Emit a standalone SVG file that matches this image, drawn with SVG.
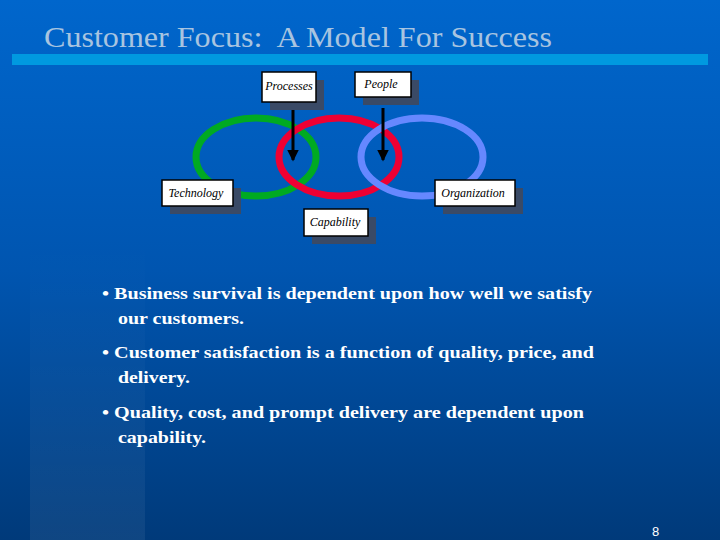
<svg xmlns="http://www.w3.org/2000/svg" width="720" height="540" viewBox="0 0 720 540">
<defs>
<linearGradient id="bg" x1="0" y1="0" x2="0" y2="1"><stop offset="0" stop-color="#0066cc"/><stop offset="0.5" stop-color="#0055b0"/><stop offset="1" stop-color="#003a7a"/></linearGradient>
<linearGradient id="strip" x1="0" y1="0" x2="0" y2="1"><stop offset="0" stop-color="#ffffff" stop-opacity="0"/><stop offset="1" stop-color="#ffffff" stop-opacity="0.06"/></linearGradient>
<marker id="ah" markerWidth="4" markerHeight="4" refX="3.5" refY="2" orient="auto"><path d="M0,0L4,2L0,4Z" fill="#000"/></marker>
<style>
.box{fill:#fff;stroke:#000;stroke-width:1.5}
.sh{fill:#3a4a66}
.lbl{font-family:"Liberation Serif",serif;font-style:italic;font-size:12px;fill:#000}
.bul{font-family:"Liberation Serif",serif;font-weight:bold;font-size:17px;fill:#fff}
</style>
</defs>
<rect width="720" height="540" fill="url(#bg)"/>
<rect x="30" y="240" width="115" height="300" fill="url(#strip)"/>
<rect x="12" y="54" width="696" height="11" fill="#0099e0"/>
<text x="44" y="47" font-family="Liberation Serif,serif" font-size="30" fill="#a8c4e0" xml:space="preserve" textLength="508" lengthAdjust="spacingAndGlyphs">Customer Focus:  A Model For Success</text>
<g id="rings" fill="none" stroke-width="7">
<ellipse cx="256" cy="157" rx="60" ry="39" stroke="#00aa22"/>
<ellipse cx="339" cy="157" rx="60" ry="39" stroke="#ee0033"/>
<ellipse cx="422" cy="157" rx="61" ry="39" stroke="#6688ff"/>
</g>
<g id="connectors" stroke="#000" stroke-width="3">
<line x1="293" y1="110" x2="293" y2="160" marker-end="url(#ah)"/>
<line x1="383" y1="108" x2="383" y2="160" marker-end="url(#ah)"/>
</g>
<g id="processes"><rect class="sh" x="270" y="80" width="54" height="30"/><rect class="box" x="262" y="72" width="54" height="30"/><text class="lbl" x="289" y="90" text-anchor="middle">Processes</text></g>
<g id="people"><rect class="sh" x="363" y="80" width="56" height="25"/><rect class="box" x="355" y="72" width="56" height="25"/><text class="lbl" x="381" y="88" text-anchor="middle">People</text></g>
<g id="technology"><rect class="sh" x="170" y="188" width="71" height="26"/><rect class="box" x="162" y="180" width="71" height="26"/><text class="lbl" x="196" y="197" text-anchor="middle">Technology</text></g>
<g id="organization"><rect class="sh" x="443" y="188" width="80" height="26"/><rect class="box" x="435" y="180" width="80" height="26"/><text class="lbl" x="473" y="197" text-anchor="middle">Organization</text></g>
<g id="capability"><rect class="sh" x="312" y="217" width="64" height="27"/><rect class="box" x="304" y="209" width="64" height="27"/><text class="lbl" x="335" y="226" text-anchor="middle">Capability</text></g>
<text class="bul" x="102" y="299" textLength="490" lengthAdjust="spacingAndGlyphs">• Business survival is dependent upon how well we satisfy</text>
<text class="bul" x="118" y="324" textLength="126" lengthAdjust="spacingAndGlyphs">our customers.</text>
<text class="bul" x="102" y="358" textLength="492" lengthAdjust="spacingAndGlyphs">• Customer satisfaction is a function of quality, price, and</text>
<text class="bul" x="118" y="383" textLength="72" lengthAdjust="spacingAndGlyphs">delivery.</text>
<text class="bul" x="102" y="418" textLength="482" lengthAdjust="spacingAndGlyphs">• Quality, cost, and prompt delivery are dependent upon</text>
<text class="bul" x="118" y="443" textLength="88" lengthAdjust="spacingAndGlyphs">capability.</text>
<text x="652" y="536" font-family="Liberation Sans,sans-serif" font-size="13" fill="#ffffff">8</text>
</svg>
